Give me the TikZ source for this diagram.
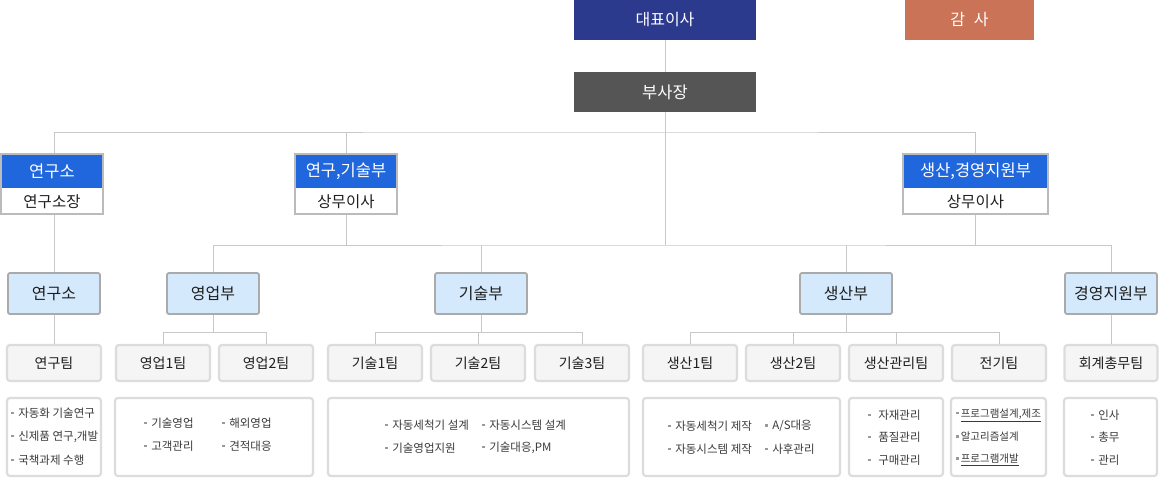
\documentclass[tikz,border=0pt]{standalone}
\usepackage{fontspec}
\setmainfont{Noto Sans CJK KR}
\definecolor{ceoblue}{HTML}{2C3A8E}
\definecolor{auditred}{HTML}{CB7357}
\definecolor{vpgray}{HTML}{555555}
\definecolor{hdrblue}{HTML}{2066DC}
\definecolor{hdrgray}{HTML}{BBBBBB}
\definecolor{lightblue}{HTML}{D5E9FC}
\definecolor{deptgray}{HTML}{AAAAAA}
\definecolor{teamgray}{HTML}{DCDCDC}
\definecolor{teamfill}{HTML}{F5F5F5}
\definecolor{linegray}{HTML}{C8C8C8}
\definecolor{txtdark}{HTML}{1E1E1E}
\definecolor{txtdet}{HTML}{3A3A3A}
\definecolor{bulgray}{HTML}{9A9A9A}
\newcommand{\bul}{\textcolor{bulgray}{\rule[3.2pt]{2.6pt}{2.6pt}}\hspace{4.5pt}}
\begin{document}
\begin{tikzpicture}[x=1pt,y=-1pt,
  conn/.style={draw=linegray, line width=1pt},
  topbox/.style={minimum width=182pt, minimum height=40pt, inner sep=0pt, text=white, font=\fontsize{16}{18}\selectfont},
  hdrouter/.style={fill=white, inner sep=0pt, minimum height=60pt, outer sep=1pt},
  hdrframe/.style={draw=hdrgray, line width=2pt},
  hdrtitle/.style={inner sep=0pt, text=white, font=\fontsize{16.5}{18}\selectfont},
  hdrsub/.style={inner sep=0pt, text=txtdark, font=\fontsize{15.5}{17}\selectfont},
  deptbox/.style={draw=deptgray, fill=lightblue, line width=1.8pt, rounded corners=2pt, minimum width=92pt, minimum height=41pt, inner sep=0pt, text=txtdark, font=\fontsize{16}{18}\selectfont},
  teambox/.style={draw=teamgray, fill=teamfill, line width=2.2pt, rounded corners=3pt, minimum width=94pt, minimum height=36pt, inner sep=0pt, text=txtdark, font=\fontsize{14}{16}\selectfont},
  detbox/.style={draw=teamgray, fill=white, line width=2.2pt, rounded corners=3pt, minimum height=78pt, inner sep=0pt},
  dtext/.style={anchor=west, inner sep=0pt, text=txtdet, font=\fontsize{11.5}{13}\selectfont}
]
\useasboundingbox (0,0) rectangle (1160,479);
\fill[white] (0,0) rectangle (1160,479);

% top level
\node[topbox, fill=ceoblue] (ceo) at (665,20) {대표이사};
\node[topbox, fill=auditred, minimum width=129pt] (audit) at (969.5,20) {감 \hspace{5pt}사};
\node[topbox, fill=vpgray, font=\fontsize{16.5}{18}\selectfont] (vp) at (665,92) {부사장};

% header boxes
\node[hdrouter, minimum width=102pt] (lab) at (52,184) {};
\fill[hdrblue] (1,154) rectangle (103,188);
\draw[hdrframe] (1,154) rectangle (103,214);
\node[hdrtitle] (labt) at (52,171) {연구소};
\node[hdrsub] (labs) at (52,201.5) {연구소장};

\node[hdrouter, minimum width=102pt] (rnd) at (346,184) {};
\fill[hdrblue] (295,154) rectangle (397,188);
\draw[hdrframe] (295,154) rectangle (397,214);
\node[hdrtitle] (rndt) at (346,171) {연구,기술부};
\node[hdrsub] (rnds) at (346,201.5) {상무이사};

\node[hdrouter, minimum width=145pt] (prod) at (975.5,184) {};
\fill[hdrblue] (903,154) rectangle (1048,188);
\draw[hdrframe] (903,154) rectangle (1048,214);
\node[hdrtitle] (prodt) at (975.5,171) {생산,경영지원부};
\node[hdrsub] (prods) at (975.5,201.5) {상무이사};

% departments
\node[deptbox] (labd) at (54,293.5) {연구소};
\node[deptbox] (sales) at (213,293.5) {영업부};
\node[deptbox] (tech) at (481,293.5) {기술부};
\node[deptbox] (pdept) at (846,293.5) {생산부};
\node[deptbox] (mgmt) at (1111,293.5) {경영지원부};

% teams
\node[teambox] (labteam) at (54,363) {연구팀};
\node[teambox] (s1) at (163,363) {영업1팀};
\node[teambox] (s2) at (266,363) {영업2팀};
\node[teambox] (t1) at (375,363) {기술1팀};
\node[teambox] (t2) at (478,363) {기술2팀};
\node[teambox] (t3) at (582,363) {기술3팀};
\node[teambox] (p1) at (690,363) {생산1팀};
\node[teambox] (p2) at (793,363) {생산2팀};
\node[teambox] (p3) at (896,363) {생산관리팀};
\node[teambox] (p4) at (999,363) {전기팀};
\node[teambox, minimum width=93pt] (acct) at (1111,363) {회계총무팀};

% connectors
\coordinate (h1) at (665,132);
\coordinate (h2) at (665,245);
\draw[conn] (ceo.south) -- (vp.north);
\draw[conn] (vp.south) -- (h2);
\draw[conn] (labd.north |- lab.north) |- (h1) -| (prod.north);
\draw[conn] (rnd.north) -- (rnd.north |- h1);
\draw[conn] (labd.north |- lab.south) -- (labd.north);
\draw[conn] (rnd.south) -- (rnd.south |- h2);
\draw[conn] (prod.south) -- (prod.south |- h2);
\draw[conn] (sales.north) |- (h2) -| (mgmt.north);
\draw[conn] (tech.north) -- (tech.north |- h2);
\draw[conn] (pdept.north) -- (pdept.north |- h2);

\draw[conn] (labd.south) -- (labteam.north);
\draw[conn] (mgmt.south) -- (acct.north);
\draw[conn] (sales.south) -- ++(0,18) coordinate (sj);
\draw[conn] (s1.north) |- (sj) -| (s2.north);
\draw[conn] (tech.south) -- ++(0,18) coordinate (tj);
\draw[conn] (t1.north) |- (tj) -| (t3.north);
\draw[conn] (t2.north) -- (t2.north |- tj);
\draw[conn] (pdept.south) -- ++(0,18) coordinate (pj);
\draw[conn] (p1.north) |- (pj) -| (p4.north);
\draw[conn] (p2.north) -- (p2.north |- pj);
\draw[conn] (p3.north) -- (p3.north |- pj);

% detail boxes
\node[detbox, minimum width=94pt] (dlab) at (54,437) {};
\node[detbox, minimum width=198pt] (dsales) at (214,437) {};
\node[detbox, minimum width=301pt] (dtech) at (478.5,437) {};
\node[detbox, minimum width=197pt] (dprod) at (741.5,437) {};
\node[detbox, minimum width=94pt] (dpm) at (896,437) {};
\node[detbox, minimum width=95pt] (delec) at (998.5,437) {};
\node[detbox, minimum width=93pt] (dacct) at (1110.5,437) {};

\node[dtext] (l1) at (11,413) {\bul 자동화 기술연구};
\node[dtext] (l2) at (11,437) {\bul 신제품 연구,개발};
\node[dtext] (l3) at (11,460) {\bul 국책과제 수행};

\node[dtext] (sa1) at (144,423) {\bul 기술영업};
\node[dtext] (sa2) at (144,446) {\bul 고객관리};
\node[dtext] (sa3) at (222,423) {\bul 해외영업};
\node[dtext] (sa4) at (222,446) {\bul 견적대응};

\node[dtext] (te1) at (385,425) {\bul 자동세척기 설계};
\node[dtext] (te2) at (385,448) {\bul 기술영업지원};
\node[dtext] (te3) at (482,425) {\bul 자동시스템 설계};
\node[dtext] (te4) at (482,448) {\bul 기술대응,PM};

\node[dtext] (pr1) at (668,426) {\bul 자동세척기 제작};
\node[dtext] (pr2) at (668,449) {\bul 자동시스템 제작};
\node[dtext] (pr3) at (765,426) {\bul A/S대응};
\node[dtext] (pr4) at (765,449) {\bul 사후관리};

\node[dtext] (pm1) at (868,415) {\bul\hspace{3pt}자재관리};
\node[dtext] (pm2) at (868,437) {\bul\hspace{3pt}품질관리};
\node[dtext] (pm3) at (868,460) {\bul\hspace{3pt}구매관리};

\node[dtext, font=\fontsize{10.5}{12}\selectfont] (el1) at (956,415) {\bul\hspace{-2.5pt}\underline{프로그램설계,제조}};
\node[dtext, font=\fontsize{10.5}{12}\selectfont] (el2) at (956,437) {\bul\hspace{-2.5pt}알고리즘설계};
\node[dtext, font=\fontsize{10.5}{12}\selectfont] (el3) at (956,460) {\bul\hspace{-2.5pt}\underline{프로그램개발}};

\node[dtext] (ac1) at (1091,415) {\bul 인사};
\node[dtext] (ac2) at (1091,437) {\bul 총무};
\node[dtext] (ac3) at (1091,460) {\bul 관리};
\end{tikzpicture}
\end{document}
